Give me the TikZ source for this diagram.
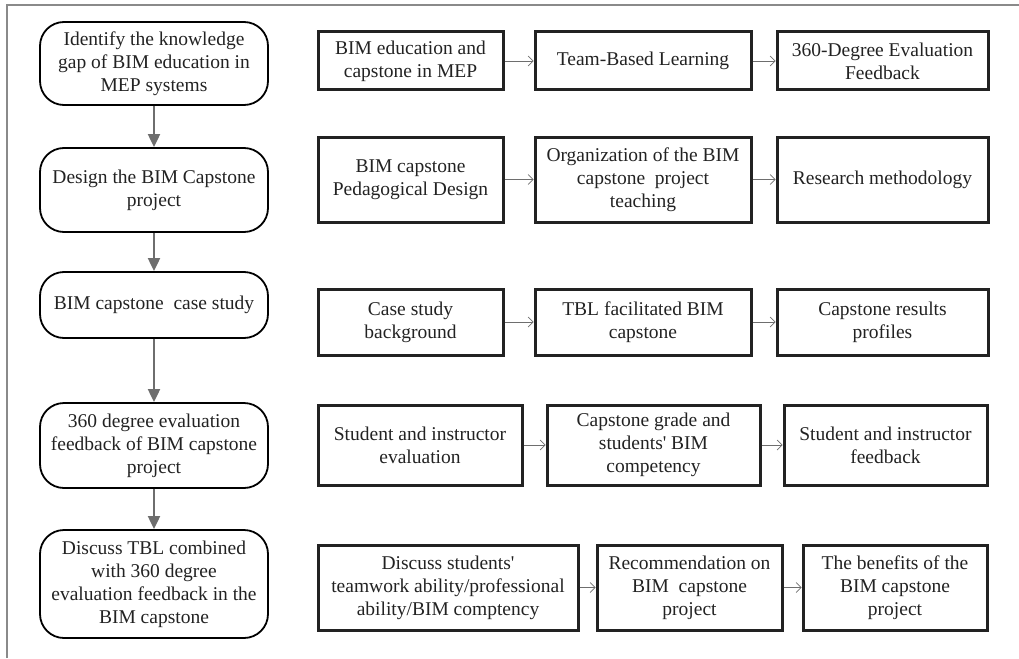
\documentclass[tikz,border=0pt]{standalone}
\usepackage{fontspec}
\setmainfont{Liberation Serif}
\usetikzlibrary{arrows.meta}
\definecolor{frameg}{HTML}{8A8A8A}
\definecolor{arrg}{HTML}{6E6E6E}
\definecolor{txt}{HTML}{222222}
\tikzset{
  lbox/.style={draw=black, line width=1.8pt, rounded corners=24pt, align=center, inner sep=0pt,
    minimum width=228pt, text=txt, font=\fontsize{19.5}{23}\selectfont},
  rbox/.style={draw=txt, line width=3pt, align=center, inner sep=0pt, text=txt,
    font=\fontsize{19.5}{23}\selectfont},
  varr/.style={draw=arrg, line width=2pt, -{Triangle[length=13pt,width=12pt]}, fill=arrg},
  harr/.style={draw=arrg, line width=0.7pt, -{Straight Barb[length=5pt,width=10pt]}},
}
\begin{document}
\begin{tikzpicture}[x=1pt,y=-1pt]
\useasboundingbox (0,0) rectangle (1019,658);
\draw[frameg, line width=2pt] (7,658) -- (7,5) -- (1019,5);
% left column
\node[lbox, minimum height=83pt] (l1) at (154,63.5) {Identify the knowledge\\gap of BIM education in\\MEP systems};
\node[lbox, minimum height=84pt] (l2) at (154,190) {Design the BIM Capstone\\project};
\node[lbox, minimum height=66pt] (l3) at (154,305) {BIM capstone\ \ case study};
\node[lbox, minimum height=85pt] (l4) at (154,445.5) {360 degree evaluation\\feedback of BIM capstone\\project};
\node[lbox, minimum height=108pt] (l5) at (154,584) {Discuss TBL combined\\with 360 degree\\evaluation feedback in the\\BIM capstone};
\draw[varr] (l1) -- (l2);
\draw[varr] (l2) -- (l3);
\draw[varr] (l3) -- (l4);
\draw[varr] (l4) -- (l5);
% row 1
\node[rbox, minimum width=185pt, minimum height=58pt] (a1) at (410.5,61) {BIM education and\\capstone in MEP};
\node[rbox, minimum width=216pt, minimum height=58pt] (b1) at (643,61) {Team-Based Learning};
\node[rbox, minimum width=211pt, minimum height=58pt] (c1) at (882.5,61) {360-Degree Evaluation\\Feedback};
% row 2
\node[rbox, minimum width=185pt, minimum height=85pt] (a2) at (410.5,179.5) {BIM capstone\\Pedagogical Design};
\node[rbox, minimum width=216pt, minimum height=85pt] (b2) at (643,179.5) {Organization of the BIM\\capstone\ \ project\\teaching};
\node[rbox, minimum width=211pt, minimum height=85pt] (c2) at (882.5,179.5) {Research methodology};
% row 3
\node[rbox, minimum width=185pt, minimum height=66pt] (a3) at (410.5,322) {Case study\\background};
\node[rbox, minimum width=216pt, minimum height=66pt] (b3) at (643,322) {TBL facilitated BIM\\capstone};
\node[rbox, minimum width=211pt, minimum height=66pt] (c3) at (882.5,322) {Capstone results\\profiles};
% row 4
\node[rbox, minimum width=204pt, minimum height=80pt] (a4) at (420,445) {Student and instructor\\evaluation};
\node[rbox, minimum width=213pt, minimum height=80pt] (b4) at (653.5,445) {Capstone grade and\\students\textquotesingle{} BIM\\competency};
\node[rbox, minimum width=203pt, minimum height=80pt] (c4) at (885.5,445) {Student and instructor\\feedback};
% row 5
\node[rbox, minimum width=260pt, minimum height=85pt] (a5) at (448,587.5) {Discuss students\textquotesingle\\teamwork\ ability/professional\\ability/BIM comptency};
\node[rbox, minimum width=185pt, minimum height=85pt] (b5) at (689.5,587.5) {Recommendation\ on\\BIM\ \ capstone\\project};
\node[rbox, minimum width=184pt, minimum height=85pt] (c5) at (895,587.5) {The benefits of the\\BIM capstone\\project};
% horizontal arrows
\foreach \r in {1,...,5}{
  \draw[harr] (a\r) -- (b\r);
  \draw[harr] (b\r) -- (c\r);
}
\end{tikzpicture}
\end{document}
